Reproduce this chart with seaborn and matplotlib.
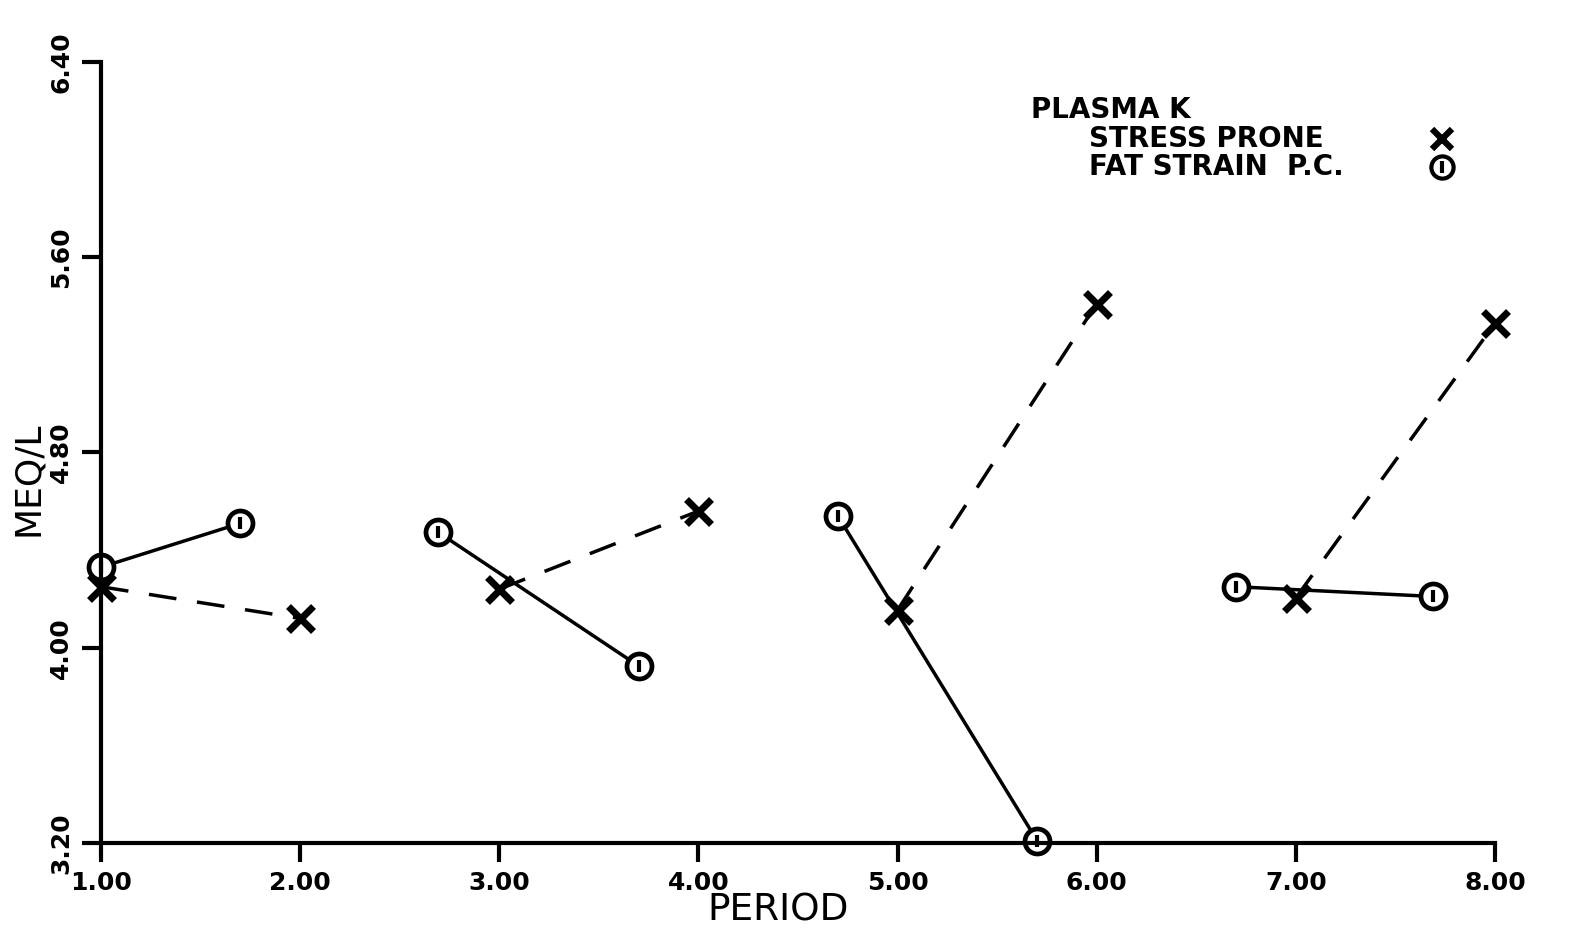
import numpy as np
import pandas as pd
import seaborn as sns
import matplotlib.pyplot as plt
import matplotlib.transforms as mtrans

# stress prone (X), pairs joined by dashed lines
sp_period = [1.0, 2.0, 3.0, 4.0, 5.0, 6.0, 7.0, 8.0]
sp_meq = [4.25, 4.12, 4.24, 4.56, 4.155, 5.41, 4.205, 5.33]
sp_pair = [1, 1, 2, 2, 3, 3, 4, 4]

# fat strain p.c. (circles), pairs joined by solid lines
fs_period = [1.0, 1.70, 2.69, 3.70, 4.70, 5.70, 6.70, 7.69]
fs_meq = [4.33, 4.51, 4.475, 3.925, 4.54, 3.21, 4.25, 4.21]
fs_pair = [1, 1, 2, 2, 3, 3, 4, 4]

xticks = [1, 2, 3, 4, 5, 6, 7, 8]
yticks = [3.2, 4.0, 4.8, 5.6, 6.4]

sp = pd.DataFrame({'period': sp_period, 'meq': sp_meq, 'pair': sp_pair})
fs = pd.DataFrame({'period': fs_period, 'meq': fs_meq, 'pair': fs_pair})

sns.set_style('white')
plt.rcParams['font.family'] = ['DejaVu Sans']
plt.rcParams['text.color'] = 'black'
plt.rcParams['axes.labelcolor'] = 'black'
plt.rcParams['xtick.color'] = 'black'
plt.rcParams['ytick.color'] = 'black'

fig = plt.figure(figsize=(15.7, 9.38), dpi=100)
ax = fig.add_axes([0.0643, 0.1013, 0.888, 0.8326])

sns.lineplot(data=fs, x='period', y='meq', units='pair', estimator=None,
             color='black', lw=2.5, ax=ax, sort=False)
n_solid = len(ax.lines)
sns.lineplot(data=sp, x='period', y='meq', units='pair', estimator=None,
             color='black', lw=2.5, ax=ax, sort=False)
for ln in ax.lines[n_solid:]:
    ln.set_linestyle((0, (8, 6)))

ax.plot(fs['period'], fs['meq'], ls='none', marker='o', ms=18, mfc='white',
        mec='black', mew=3.4, clip_on=False)
ax.plot(fs['period'], fs['meq'], ls='none', marker='|', ms=9, mec='black',
        mew=3, clip_on=False)
ax.plot(sp['period'], sp['meq'], ls='none', marker='x', ms=18, mec='black',
        mew=5, clip_on=False)

ax.set_xlim(1, 8)
ax.set_ylim(3.2, 6.4)
ax.set_xticks(xticks)
ax.set_xticklabels(['%.2f' % v for v in xticks], fontsize=18, fontweight='bold')
ax.set_yticks(yticks)
ax.set_yticklabels(['%.2f' % v for v in yticks], fontsize=18, fontweight='bold',
                   rotation=90, va='center')
shift = mtrans.ScaledTranslation(0, 0.15, fig.dpi_scale_trans)
for lab in ax.get_yticklabels():
    lab.set_transform(lab.get_transform() + shift)
ax.tick_params(axis='both', direction='out', length=14, width=3, color='black',
               left=True, bottom=True, pad=6)
for s in ['top', 'right']:
    ax.spines[s].set_visible(False)
for s in ['left', 'bottom']:
    ax.spines[s].set_linewidth(3)
    ax.spines[s].set_color('black')

ax.set_xlabel('PERIOD', fontsize=27)
ax.xaxis.set_label_coords(0.486, -0.064)
ax.set_ylabel('MEQ/L', fontsize=26)
ax.yaxis.set_label_coords(-0.040, 0.467)

tf = ax.transAxes
ax.text(0.667, 0.939, 'PLASMA K', transform=tf, fontsize=20, fontweight='bold',
        va='center')
ax.text(0.709, 0.902, 'STRESS PRONE', transform=tf, fontsize=20,
        fontweight='bold', va='center')
ax.text(0.709, 0.866, 'FAT STRAIN  P.C.', transform=tf, fontsize=20,
        fontweight='bold', va='center')
ax.plot([0.962], [0.902], transform=tf, marker='x', ms=15, mec='black', mew=4.5,
        clip_on=False)
ax.plot([0.962], [0.866], transform=tf, marker='o', ms=16, mfc='white',
        mec='black', mew=3, clip_on=False)
ax.plot([0.962], [0.866], transform=tf, marker='|', ms=8, mec='black', mew=3,
        clip_on=False)

fig.savefig('out.png', dpi=100)
